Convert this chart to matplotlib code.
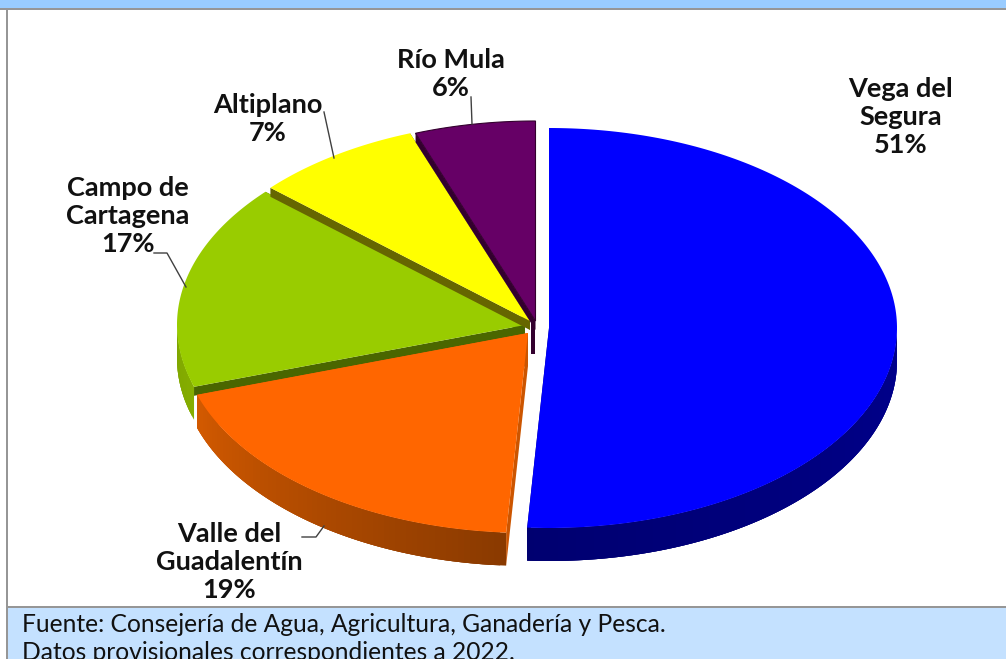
import numpy as np
import matplotlib
matplotlib.use("Agg")
import matplotlib.pyplot as plt
from matplotlib.patches import Polygon, Rectangle

names = ["Vega del\nSegura", "Valle del\nGuadalentín", "Campo de\nCartagena", "Altiplano", "Río Mula"]
percent_labels = ["51%", "19%", "17%", "7%", "6%"]
# slice sizes as drawn in the picture, labels above are the printed ones
values = [51, 19, 16.6, 7.8, 5.6]
colors = ["#0000FF", "#FF6600", "#99CC00", "#FFFF00", "#660066"]
cut_colors = ["#000070", "#CC5500", "#4A6600", "#666600", "#33002E"]
# wall colour at the two ends of the visible rim
wall_from = ["#00008C", "#8A3A00", "#85AD00", "#000000", "#000000"]
wall_to = ["#000070", "#D45A00", "#7FA600", "#000000", "#000000"]
footer = ["Fuente: Consejería de Agua, Agricultura, Ganadería y Pesca.",
          "Datos provisionales correspondientes a 2022."]

# layout, in pixels
HR, VR, DEPTH = 348, 200, 33
CUT = 9
centers = [(549, 328), (528, 333), (525, 325), (530, 321), (535.5, 321)]
label_pos = [(901, 117), (229, 562), (128, 216), (268, 119), (451, 74)]
leaders = [None,
           [(302, 537), (316, 537), (324, 526)],
           [(154, 253), (167, 253), (186, 287)],
           [(324, 112), (334, 158)],
           [(471, 97), (472, 124)]]
draw_order = [2, 3, 4, 1, 0]


def rim(c, ang):
    a = np.radians(ang)
    return c[0] + HR * np.sin(a), c[1] - VR * np.cos(a)


def mix(c1, c2, t):
    c1 = np.array(matplotlib.colors.to_rgb(c1))
    c2 = np.array(matplotlib.colors.to_rgb(c2))
    return tuple(c1 + (c2 - c1) * t)


fig = plt.figure(figsize=(10.06, 6.59), dpi=100)
ax = fig.add_axes([0, 0, 1, 1])
ax.set_xlim(0, 1006)
ax.set_ylim(659, 0)
ax.axis("off")

# frame bands
ax.add_patch(Rectangle((0, 0), 1006, 8, fc="#99CCFF", ec="none"))
ax.add_patch(Rectangle((0, 8), 1006, 2, fc="#969696", ec="none"))
ax.add_patch(Rectangle((6, 10), 2, 649, fc="#969696", ec="none"))
ax.add_patch(Rectangle((8, 608), 998, 51, fc="#C4E1FF", ec="none"))
ax.add_patch(Rectangle((8, 606), 998, 2, fc="#969696", ec="none"))

edges = np.concatenate([[0], np.cumsum(values)]) * 360.0 / sum(values)

for i in draw_order:
    c = centers[i]
    a0, a1 = edges[i], edges[i + 1]
    z = 2 + draw_order.index(i)

    # cut faces
    for ang in (a0, a1):
        x, y = rim(c, ang)
        d = DEPTH if i in (0, 1) else CUT
        ax.add_patch(Polygon([c, (x, y), (x, y + d), (c[0], c[1] + d)],
                             fc=cut_colors[i], ec="none", zorder=z))
    if i == 4:
        ax.add_patch(Rectangle((c[0] - 4.5, c[1]), 4.5, DEPTH, fc=cut_colors[i], ec="none", zorder=z))

    # outer wall, only the front half of the rim shows
    # each strip overlaps the next one so no seams show
    lo, hi = max(a0, 90), min(a1, 270)
    if hi > lo:
        steps = np.linspace(lo, hi, int(hi - lo) + 2)
        for k in range(len(steps) - 1):
            t = (steps[k] - lo) / (hi - lo)
            col = mix(wall_from[i], wall_to[i], t)
            th = np.linspace(steps[k], min(steps[k] + 3, hi), 6)
            xs, ys = rim(c, th)
            pts = np.column_stack([np.r_[xs, xs[::-1]], np.r_[ys, ys[::-1] + DEPTH]])
            ax.add_patch(Polygon(pts, fc=col, ec="none", zorder=z))

    # top face
    th = np.linspace(a0, a1, 200)
    xs, ys = rim(c, th)
    pts = np.column_stack([np.r_[c[0], xs], np.r_[c[1], ys]])
    ax.add_patch(Polygon(pts, fc=colors[i], ec="#33002E" if i == 4 else "none",
                         lw=0.8 if i == 4 else 0, zorder=z + 0.5))

# labels and leader lines
for i in range(len(names)):
    ax.text(label_pos[i][0], label_pos[i][1], names[i] + "\n" + percent_labels[i],
            ha="center", va="center", family="Lato", weight="bold", fontsize=19.5,
            color="#111111", linespacing=1.2, zorder=20)
    if leaders[i]:
        lx, ly = zip(*leaders[i])
        ax.plot(lx, ly, color="#404040", lw=1, zorder=19)

for k, line in enumerate(footer):
    ax.text(22, 625 + k * 28, line, ha="left", va="center", family="Lato",
            fontsize=17.7, color="#111111", zorder=20, clip_on=True)

fig.savefig("out.png", dpi=100)
